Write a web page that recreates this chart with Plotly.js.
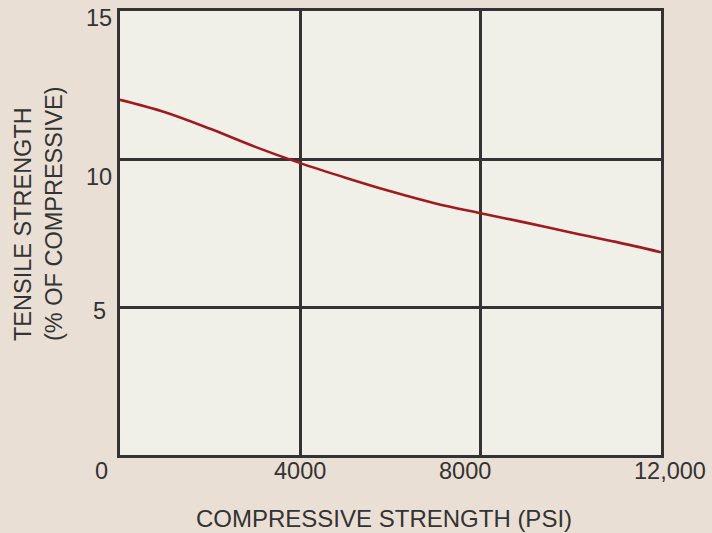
<!DOCTYPE html>
<html>
<head>
<meta charset="utf-8">
<script src="https://cdn.plot.ly/plotly-3.0.1.min.js"></script>
<style>
  html, body { margin: 0; padding: 0; background: #eadfd4; }
  #chart { width: 712px; height: 533px; }
</style>
</head>
<body>
<div id="chart"></div>
<script>
// ---- data ----
const compressivePsi = [0, 1000, 2000, 3000, 4000, 5000, 6000, 7000, 8000, 9000, 10000, 11000, 12000];
const tensilePct     = [12.0, 11.58, 11.02, 10.41, 9.86, 9.37, 8.91, 8.5, 8.17, 7.85, 7.52, 7.2, 6.85];

const xTickVals = [0, 4000, 8000, 12000];
const xTickText = ["0", "4000", "8000", "12,000"];
const yTickVals = [5, 10, 15];
const yTickText = ["5", "10", "15"];

const xTitle = "COMPRESSIVE STRENGTH (PSI)";
const yTitleLines = ["TENSILE STRENGTH", "(% OF COMPRESSIVE)"];

// ---- styling ----
const textColor = "#333333";
const fontFamily = "'Liberation Sans', Arial, Helvetica, sans-serif";
const labelSize = 23.5;
// label nudges (pixels) to follow the original hand placement
const xLabelShift = [-19, 0, -16, 9];
const yLabelShiftX = [-12, -6, -6];
const yLabelShiftY = [-4, -18, -7];

const annotations = [];
xTickVals.forEach((v, i) => {
  annotations.push({
    x: v, xref: "x", y: 0, yref: "paper",
    text: xTickText[i], showarrow: false,
    xanchor: "center", yanchor: "middle",
    xshift: xLabelShift[i], yshift: -16,
    font: { family: fontFamily, size: labelSize, color: textColor }
  });
});
yTickVals.forEach((v, i) => {
  annotations.push({
    x: 0, xref: "paper", y: v, yref: "y",
    text: yTickText[i], showarrow: false,
    xanchor: "right", yanchor: "middle",
    xshift: yLabelShiftX[i], yshift: yLabelShiftY[i],
    font: { family: fontFamily, size: labelSize, color: textColor }
  });
});
annotations.push({
  x: 0.5, xref: "paper", y: 0, yref: "paper",
  text: xTitle, showarrow: false,
  xanchor: "center", yanchor: "middle",
  xshift: -7, yshift: -63,
  font: { family: fontFamily, size: 24, color: textColor }
});
annotations.push({
  x: 0, xref: "paper", y: 0.5, yref: "paper",
  text: yTitleLines.join("<br>"), showarrow: false,
  textangle: -90, align: "left",
  xanchor: "center", yanchor: "middle",
  xshift: -82, yshift: 19,
  font: { family: fontFamily, size: labelSize, color: textColor }
});

const trace = {
  x: compressivePsi,
  y: tensilePct,
  type: "scatter",
  mode: "lines",
  line: { color: "#9e1b22", width: 2.6, shape: "spline", smoothing: 1 },
  hoverinfo: "x+y"
};

const axisCommon = {
  showgrid: true, gridcolor: "#333333", gridwidth: 3,
  showline: true, linecolor: "#333333", linewidth: 3, mirror: true,
  zeroline: false, showticklabels: false, ticks: "",
  tickmode: "array", fixedrange: true
};

const layout = {
  width: 712, height: 533,
  margin: { l: 120, r: 51, t: 11, b: 78 },
  paper_bgcolor: "#eadfd4",
  plot_bgcolor: "#f1f0e8",
  showlegend: false,
  xaxis: Object.assign({}, axisCommon, { range: [0, 12000], tickvals: xTickVals }),
  yaxis: Object.assign({}, axisCommon, { range: [0, 15], tickvals: yTickVals }),
  annotations: annotations,
  font: { family: fontFamily, color: textColor }
};

Plotly.newPlot("chart", [trace], layout, { displayModeBar: false, staticPlot: true });
</script>
</body>
</html>
